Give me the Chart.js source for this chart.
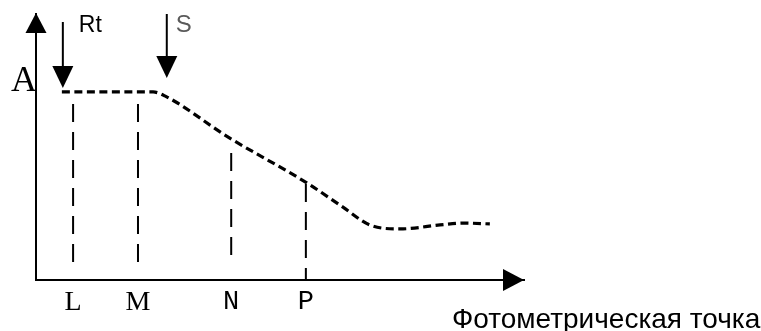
<!DOCTYPE html>
<html>
<head>
<meta charset="utf-8">
<script src="https://cdn.jsdelivr.net/npm/chart.js@4"></script>
<style>
    html, body { margin: 0; padding: 0; background: #fff; }
    #wrap { width: 761px; height: 331px; position: relative; }
</style>
</head>
<body>
<div id="wrap"><canvas id="chartCurva"></canvas></div>
<script>
// Curva di assorbanza (unità arbitrarie, 0-100 su entrambi gli assi)
const curveX = [5.3, 24.0, 26.4, 39.3, 55.5, 62.9, 68.4, 74.6, 82.8, 87.5, 93.0];
const curveY = [70.7, 70.7, 69.2, 53.8, 36.5, 27.4, 20.7, 19.2, 20.7, 21.4, 21.1];

// Punti fotometrici: posizione, nome, estremi della linea tratteggiata
const markX = [7.6, 20.9, 40.0, 55.3];
const markNames = ['L', 'M', 'N', 'P'];
const markTop = [66.2, 66.2, 47.7, 36.1];
const markBottom = [4.9, 4.9, 8.6, 0];

// Frecce Rt (reagente) e S (campione)
const pointerNames = ['Rt', 'S'];
const pointerX = [5.5, 26.8];
const pointerTop = [97.0, 100];
const pointerTip = [72.2, 75.9];

const yAxisName = 'A';
const xAxisName = 'Фотометрическая точка';

function triangle(ctx, x, y, dir, len, half) {
    ctx.beginPath();
    if (dir === 'up') {
        ctx.moveTo(x, y);
        ctx.lineTo(x - half, y + len);
        ctx.lineTo(x + half, y + len);
    } else if (dir === 'down') {
        ctx.moveTo(x, y);
        ctx.lineTo(x - half, y - len);
        ctx.lineTo(x + half, y - len);
    } else {
        ctx.moveTo(x, y);
        ctx.lineTo(x - len, y - half);
        ctx.lineTo(x - len, y + half);
    }
    ctx.closePath();
    ctx.fill();
}

// frecce degli assi, frecce Rt/S e scritte
const decorPlugin = {
    id: 'decor',
    afterDraw(chart) {
        const ctx = chart.ctx;
        const area = chart.chartArea;
        const xs = chart.scales.x;
        const ys = chart.scales.y;
        ctx.save();
        ctx.fillStyle = '#000';
        triangle(ctx, area.left, area.top - 1, 'up', 20, 10.5);
        triangle(ctx, area.right, area.bottom, 'right', 21, 11);

        ctx.strokeStyle = '#000';
        ctx.lineWidth = 2;
        pointerX.forEach((v, i) => {
            const px = xs.getPixelForValue(v);
            const top = ys.getPixelForValue(pointerTop[i]);
            const tip = ys.getPixelForValue(pointerTip[i]);
            ctx.beginPath();
            ctx.moveTo(px, top);
            ctx.lineTo(px, tip - 10);
            ctx.stroke();
            triangle(ctx, px, tip, 'down', 22, 10.5);
        });

        ctx.textBaseline = 'alphabetic';
        ctx.font = '23px "Liberation Sans", Arial, sans-serif';
        ctx.fillStyle = '#000';
        ctx.fillText(pointerNames[0], xs.getPixelForValue(pointerX[0]) + 16, 32);
        ctx.fillStyle = '#5a5a5a';
        ctx.font = '24px "Liberation Sans", Arial, sans-serif';
        ctx.fillText(pointerNames[1], xs.getPixelForValue(pointerX[1]) + 9, 32);

        ctx.fillStyle = '#000';
        ctx.font = '36px "Liberation Serif", "Times New Roman", serif';
        ctx.fillText(yAxisName, 11, 91);

        ctx.font = '28px "Liberation Sans", Arial, sans-serif';
        ctx.fillText(xAxisName, 452, 328);
        ctx.restore();
    }
};

const datasets = [{
    data: curveX.map((x, i) => ({ x: x, y: curveY[i] })),
    borderColor: '#000',
    borderWidth: 3.2,
    borderDash: [8, 4.5],
    cubicInterpolationMode: 'monotone',
    pointRadius: 0
}];

markX.forEach((x, i) => {
    datasets.push({
        data: [{ x: x, y: markTop[i] }, { x: x, y: markBottom[i] }],
        borderColor: '#000',
        borderWidth: 2,
        borderDash: [18, 10],
        pointRadius: 0
    });
});

const chart = new Chart(document.getElementById('chartCurva').getContext('2d'), {
    type: 'line',
    data: { datasets: datasets },
    options: {
        responsive: true,
        maintainAspectRatio: false,
        animation: false,
        layout: { padding: { top: 14, right: 237, left: 0, bottom: 0 } },
        plugins: { legend: { display: false }, tooltip: { enabled: false } },
        scales: {
            x: {
                type: 'linear',
                min: 0,
                max: 100,
                grid: { display: false, drawTicks: false },
                border: { display: true, color: '#000', width: 2 },
                afterBuildTicks: scale => {
                    scale.ticks = markX.map(v => ({ value: v }));
                },
                afterFit: scale => { scale.height = 51; },
                ticks: {
                    autoSkip: false,
                    maxRotation: 0,
                    padding: 6,
                    color: '#000',
                    font: ctx => ({
                        family: ctx.index < 2 ? '"Liberation Serif", serif' : '"Liberation Mono", monospace',
                        size: ctx.index < 2 ? 28 : 27
                    }),
                    callback: (value, index) => markNames[index]
                }
            },
            y: {
                type: 'linear',
                min: 0,
                max: 100,
                grid: { display: false, drawTicks: false },
                border: { display: true, color: '#000', width: 2 },
                ticks: { display: false },
                afterFit: scale => { scale.width = 36; }
            }
        }
    },
    plugins: [decorPlugin]
});
</script>
</body>
</html>
